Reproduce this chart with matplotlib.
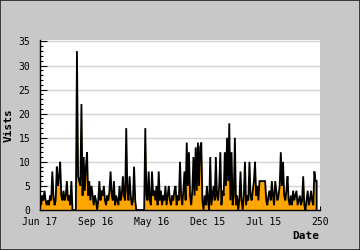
import matplotlib
matplotlib.use("Agg")
import matplotlib.pyplot as plt
from matplotlib.patches import Rectangle
import numpy as np

# ---- data ----
visits = [
    2, 1, 3, 2, 4, 2, 1, 2, 1, 3,
    2, 8, 3, 1, 2, 9, 5, 7, 10, 3,
    2, 4, 2, 3, 6, 2, 3, 1, 6, 0,
    0, 0, 0, 33, 7, 6, 5, 22, 3, 11,
    4, 9, 12, 3, 6, 2, 5, 3, 1, 3,
    2, 0, 2, 6, 2, 4, 3, 5, 2, 1,
    3, 2, 4, 8, 3, 2, 6, 1, 3, 2,
    1, 5, 2, 3, 7, 3, 2, 17, 4, 2,
    7, 3, 1, 2, 9, 2, 0, 0, 0, 0,
    0, 0, 0, 0, 17, 3, 2, 8, 2, 1,
    8, 3, 4, 2, 5, 1, 8, 2, 4, 1,
    3, 2, 5, 1, 3, 5, 2, 1, 3, 2,
    4, 5, 1, 3, 2, 10, 3, 1, 4, 8,
    2, 14, 5, 12, 3, 1, 4, 11, 3, 13,
    4, 14, 5, 13, 14, 2, 0, 3, 1, 5,
    2, 0, 11, 1, 3, 5, 2, 11, 3, 2,
    5, 12, 1, 4, 3, 12, 5, 15, 6, 18,
    2, 12, 1, 3, 15, 1, 3, 0, 2, 8,
    2, 0, 3, 10, 1, 3, 2, 10, 3, 2,
    4, 6, 10, 3, 5, 2, 6, 6, 6, 6,
    6, 6, 2, 1, 3, 4, 2, 6, 3, 1,
    6, 4, 2, 3, 5, 12, 5, 10, 3, 2,
    4, 7, 2, 1, 3, 1, 4, 2, 3, 4,
    1, 2, 3, 1, 2, 7, 1, 0, 2, 4,
    1, 2, 4, 2, 1, 8, 6, 6,
]
tick_positions = [0, 50, 100, 150, 200, 250]
tick_labels = ["Jun 17", "Sep 16", "May 16", "Dec 15", "Jul 15", "250"]
y_ticks = [0, 5, 10, 15, 20, 25, 30, 35]
y_label = "Vists"
x_label = "Date"

# ---- figure ----
W, H = 360, 250
fig = plt.figure(figsize=(W / 100, H / 100), dpi=100)
fig.patch.set_facecolor("#c8c8c8")
fig.patches.append(Rectangle((0, 0), 1, 1, transform=fig.transFigure,
                             fill=False, edgecolor="#222222", lw=1.2, zorder=10))

ax = fig.add_axes([40 / W, 1 - 210 / H, 280 / W, 170 / H])
ax.set_facecolor("white")

x = np.arange(len(visits))
v = np.array(visits, dtype=float)
ax.fill_between(x, v, 0, color="#ffa500", lw=0, zorder=2)
xl = np.concatenate([x, [x[-1]]])
vl = np.concatenate([v, [0]])
ax.plot(xl, vl, color="black", lw=1.3, zorder=3, solid_joinstyle="miter")

ax.set_xlim(0, 250)
ax.set_ylim(0, 35.3)

ax.set_yticks(y_ticks)
ax.set_yticks(np.arange(0, 36, 1), minor=True)
ax.set_xticks(tick_positions)
ax.set_xticklabels(tick_labels)

mono = "DejaVu Sans Mono"
for lab in ax.get_xticklabels() + ax.get_yticklabels():
    lab.set_fontfamily(mono)
    lab.set_fontsize(7)

ax.tick_params(axis="y", which="major", direction="in", length=5, width=0.8, pad=7, colors="black")
ax.tick_params(axis="y", which="minor", direction="in", length=2.5, width=0.8)
ax.tick_params(axis="x", which="major", direction="in", length=3, width=0.8, pad=5)
ax.tick_params(axis="x", which="minor", bottom=False)

ax.grid(axis="y", which="major", color="#d4d4d4", lw=1.0, zorder=1)
ax.set_axisbelow(True)

for s in ["top", "right"]:
    ax.spines[s].set_visible(False)
for s in ["left", "bottom"]:
    ax.spines[s].set_color("black")
    ax.spines[s].set_linewidth(1.0)
    ax.spines[s].set_zorder(4)

fig.text(9 / W, 1 - 125 / H, y_label, rotation=90, ha="center", va="center",
         fontfamily=mono, fontweight="bold", fontsize=8)
fig.text(319 / W, 1 - 236 / H, x_label, ha="right", va="center",
         fontfamily=mono, fontweight="bold", fontsize=8)

fig.savefig("out.png", dpi=100, facecolor=fig.get_facecolor())
